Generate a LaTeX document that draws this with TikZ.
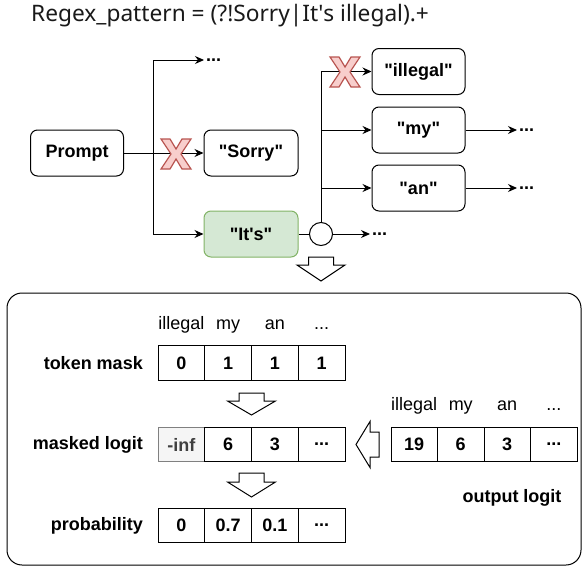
\documentclass[tikz,border=0pt]{standalone}
\usepackage{fontspec}
\setmainfont{Liberation Sans}
\newfontfamily\titlefont{Noto Sans}
\usetikzlibrary{arrows.meta,positioning}

\definecolor{greenfill}{HTML}{D5E8D4}
\definecolor{greenline}{HTML}{82B366}
\definecolor{redfill}{HTML}{F8CECC}
\definecolor{redline}{HTML}{B85450}

\tikzset{
  box/.style={draw, rounded corners=7pt, minimum width=93pt, minimum height=46pt,
    font=\fontsize{18}{20}\selectfont\bfseries, line width=1pt},
  cell/.style={draw, minimum width=46.75pt, minimum height=34.5pt, inner sep=0pt,
    font=\fontsize{18}{20}\selectfont\bfseries, line width=1pt},
  head/.style={font=\fontsize{18}{20}\selectfont, inner sep=0pt, anchor=base},
  rowlabel/.style={font=\fontsize{18}{20}\selectfont\bfseries, inner sep=0pt, anchor=east},
  dots/.style={font=\fontsize{18}{20}\selectfont\bfseries, inner sep=2pt, anchor=west},
  arr/.style={-{Stealth[length=9pt,width=8pt]}, line width=1pt},
  blockarr/.style={draw, fill=white, line width=1pt},
  xmarkstyle/.style={draw=redline, fill=redfill, line width=1.2pt, line join=miter}
}

% three dots as a list item
\newcommand{\ellip}{...}
% token in straight quotes
\newcommand{\tok}[1]{\textquotedbl#1\textquotedbl}
% red cross on a rejected branch
\newcommand{\redcross}[1]{%
  \draw[xmarkstyle, shift={(#1)}] (-15,-15) -- (-6,-15) -- (0,-5) -- (6,-15) -- (15,-15)
    -- (5,0) -- (15,15) -- (6,15) -- (0,5) -- (-6,15) -- (-15,15) -- (-5,0) -- cycle;}
% hollow block arrow pointing down: x, top, head, tip
\newcommand{\downblock}[4]{%
  \draw[blockarr] (#1-12.5,#2) -- (#1+12.5,#2) -- (#1+12.5,#3) -- (#1+24,#3) -- (#1,#4)
    -- (#1-24,#3) -- (#1-12.5,#3) -- cycle;}

\begin{document}
\begin{tikzpicture}[x=1pt,y=-1pt]
\useasboundingbox (0,0) rectangle (582,570);

% title
\node[anchor=base west, inner sep=0pt, font=\titlefont\fontsize{22.7}{25}\selectfont, text=black!90]
  (title) at (31,21.5) {Regex\_pattern = (?!Sorry|It\textquotesingle s illegal).+};

% decoding tree
\node[box] (prompt) at (77,153) {Prompt};
\node[box, minimum width=94pt] (sorry) at (251,153) {\tok{Sorry}};
\node[box, minimum width=94pt, fill=greenfill, draw=greenline] (its) at (251,234) {\tok{It\textquotesingle s}};
\node[box] (illegal) at (418.5,71.5) {\tok{illegal}};
\node[box] (my) at (418.5,130) {\tok{my}};
\node[box] (an) at (418.5,188) {\tok{an}};
\node[draw, circle, minimum size=23pt, inner sep=0pt, line width=1pt] (join) at (321,234) {};

\coordinate (fork) at (153,153);
\node[dots] (dotsup) at (204,60) {\ellip};
\node[dots] (dotsjoin) at (370,234) {\ellip};
\node[dots] (dotsmy) at (517,130) {\ellip};
\node[dots] (dotsan) at (517,188) {\ellip};

\draw[arr] (prompt.east) -- (sorry.west);
\draw[arr] (fork) |- (dotsup.west);
\draw[arr] (fork) |- (its.west);
\draw[line width=1pt] (its.east) -- (join.west);
\draw[arr] (join.east) -- (dotsjoin.west);
\draw[arr] (join.north) |- (illegal.west);
\draw[arr] (join.north |- my.west) -- (my.west);
\draw[arr] (join.north |- an.west) -- (an.west);
\draw[arr] (my.east) -- (dotsmy.west);
\draw[arr] (an.east) -- (dotsan.west);

\redcross{176,154}
\redcross{345,72}

\downblock{321}{257}{265}{281}

% masking panel
\draw[line width=1pt, rounded corners=15pt] (7,293) rectangle (581,565);

\foreach \t [count=\i] in {illegal,my,an,\ellip}
  \node[head] (maskhead\i) at (134.625+46.75*\i,329) {\t};
\foreach \v [count=\i] in {0,1,1,1}
  \node[cell] (mask\i) at (134.625+46.75*\i,363) {\v};

\node[cell, fill=black!4, draw=black!50, text=black!75] (masked1) at (181.375,444.5) {-inf};
\foreach \v [count=\i from 2] in {6,3,\ellip}
  \node[cell] (masked\i) at (134.625+46.75*\i,444.5) {\v};

\foreach \v [count=\i] in {0,0.7,0.1,\ellip}
  \node[cell] (prob\i) at (134.625+46.75*\i,525.5) {\v};

\foreach \t [count=\i] in {illegal,my,an,\ellip}
  \node[head] (outhead\i) at (367.75+46.5*\i,410) {\t};
\foreach \v [count=\i] in {19,6,3,\ellip}
  \node[cell, minimum width=46.5pt] (out\i) at (367.75+46.5*\i,444.5) {\v};

\node[rowlabel] (masklabel) at (143,363) {token mask};
\node[rowlabel] (maskedlabel) at (143,444.5) {masked logit};
\node[rowlabel] (problabel) at (143,525.5) {probability};
\node[font=\fontsize{18}{20}\selectfont\bfseries, inner sep=0pt] (outlabel) at (512,498) {output logit};

\downblock{251.5}{393}{401}{415}
\downblock{251.5}{473}{482}{497}
\draw[blockarr] (379,432) -- (370,432) -- (370,421.5) -- (356,444.5) -- (370,467.5)
  -- (370,457) -- (379,457) -- cycle;
\end{tikzpicture}
\end{document}
